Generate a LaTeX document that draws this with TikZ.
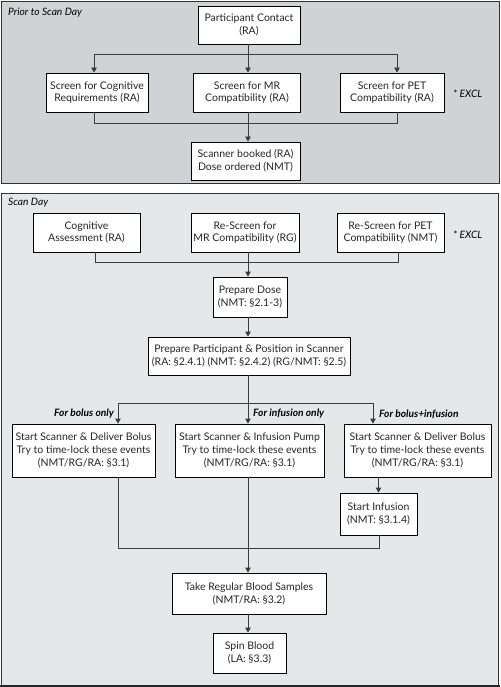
\documentclass[tikz,border=0pt]{standalone}
\usepackage{fontspec}
\setmainfont{Lato}
\usetikzlibrary{arrows.meta,calc}
\definecolor{panelA}{HTML}{D1D2D4}
\definecolor{panelB}{HTML}{E6E7E8}
\definecolor{linec}{HTML}{3C3C3C}
\tikzset{
  box/.style={draw=black,line width=0.8pt,fill=white,align=center,inner sep=1pt,
    font=\fontsize{10.5}{12.8}\selectfont,text=black!85},
  conn/.style={draw=linec,line width=0.8pt},
  arr/.style={conn,-{Triangle[width=5.5pt,length=5pt]}},
  paneltitle/.style={anchor=west,font=\fontsize{10.2}{11}\selectfont\itshape,inner sep=0pt},
  excl/.style={anchor=west,font=\fontsize{10.2}{11}\selectfont\itshape,inner sep=0pt},
  branch/.style={font=\fontsize{10.2}{11}\selectfont\bfseries\itshape,inner sep=0pt},
}
\begin{document}
\begin{tikzpicture}[x=1pt,y=-1pt]
\useasboundingbox (0,0) rectangle (500,687);
% panels
\draw[fill=panelA,draw=black!80,line width=0.8pt] (1,1.5) rectangle (499,183);
\draw[fill=panelB,draw=black!80,line width=0.8pt] (1,193) rectangle (498,685);
\draw[line width=2pt,black!85] (0,685.5) -- (500,685.5);
\node[paneltitle] (t1) at (8,13) {Prior to Scan Day};
\node[paneltitle] (t2) at (8,203) {Scan Day};
% --- Prior to scan day
\node[box,minimum width=102pt,minimum height=38pt] (contact) at (249,25) {Participant Contact\\(RA)};
\node[box,minimum width=102pt,minimum height=39pt] (cog1) at (97,92.5) {Screen for Cognitive\\Requirements (RA)};
\node[box,minimum width=107pt,minimum height=39pt] (mr1) at (247,92.5) {Screen for MR\\Compatibility (RA)};
\node[box,minimum width=104pt,minimum height=39pt] (pet1) at (392,92.5) {Screen for PET\\Compatibility (RA)};
\node[excl] (ex1) at (453,94) {* EXCL};
\node[box,minimum width=109pt,minimum height=38pt] (book) at (245.5,161) {Scanner booked (RA)\\Dose ordered (NMT)};
\coordinate (a1) at (94,54);
\coordinate (a3) at (397,54);
\coordinate (b1) at (94,123);
\coordinate (b3) at (397,123);
\draw[conn] (a1) -- (a3);
\draw[conn] (contact.south -| 248,0) -- (248,54);
\draw[arr] (a1) -- (a1 |- cog1.north);
\draw[arr] (248,54) -- (248,0 |- mr1.north);
\draw[arr] (a3) -- (a3 |- pet1.north);
\draw[conn] (b1 |- cog1.south) -- (b1) -- (b3) -- (b3 |- pet1.south);
\draw[arr] (248,0 |- mr1.south) -- (248,0 |- book.north);
% --- Scan day
\node[box,minimum width=107pt,minimum height=39pt] (cog2) at (86.5,232.5) {Cognitive\\Assessment (RA)};
\node[box,minimum width=108pt,minimum height=39pt] (mr2) at (245,232.5) {Re-Screen for\\MR Compatibility (RG)};
\node[box,minimum width=107pt,minimum height=39pt] (pet2) at (390.5,232.5) {Re-Screen for PET\\Compatibility (NMT)};
\node[excl] (ex2) at (453,235) {* EXCL};
\node[box,minimum width=74pt,minimum height=40pt] (dose) at (250,297) {Prepare Dose\\(NMT: §2.1-3)};
\node[box,minimum width=202pt,minimum height=38pt] (prep) at (249,356) {Prepare Participant \& Position in Scanner\\(RA: §2.4.1) (NMT: §2.4.2) (RG/NMT: §2.5)};
\coordinate (c1) at (95,262);
\coordinate (c3) at (398,262);
\draw[conn] (c1 |- cog2.south) -- (c1) -- (c3) -- (c3 |- pet2.south);
\draw[arr] (248,0 |- mr2.south) -- (248,0 |- dose.north);
\draw[arr] (248,0 |- dose.south) -- (248,0 |- prep.north);
% branches
\node[box,minimum width=143pt,minimum height=53pt] (bolus) at (83.5,450.5) {Start Scanner \& Deliver Bolus\\Try to time-lock these events\\(NMT/RG/RA: §3.1)};
\node[box,minimum width=149pt,minimum height=53pt] (inf) at (249.5,450.5) {Start Scanner \& Infusion Pump\\Try to time-lock these events\\(NMT/RG/RA: §3.1)};
\node[box,minimum width=147pt,minimum height=53pt] (bi) at (417.5,450.5) {Start Scanner \& Deliver Bolus\\Try to time-lock these events\\(NMT/RG/RA: §3.1)};
\node[box,minimum width=77pt,minimum height=42pt] (sinf) at (378.5,514) {Start Infusion\\(NMT: §3.1.4)};
\coordinate (s1) at (118,403);
\coordinate (s3) at (373,403);
\draw[conn] (248,0 |- prep.south) -- (248,403);
\draw[conn] (s1) -- (s3);
\draw[arr] (s1) -- (s1 |- bolus.north);
\draw[arr] (248,403) -- (248,0 |- inf.north);
\draw[arr] (s3) -- (s3 |- bi.north);
\node[branch,anchor=east] (l1) at (114,414) {For bolus only};
\node[branch,anchor=west] (l2) at (253,414) {For infusion only};
\node[branch,anchor=west] (l3) at (379,414) {For bolus+infusion};
\draw[arr] (sinf.north |- bi.south) -- (sinf.north);
\coordinate (m1) at (118,548);
\coordinate (m3) at (379,548);
\draw[conn] (m1 |- bolus.south) -- (m1) -- (m3) -- (m3 |- sinf.south);
\node[box,minimum width=154pt,minimum height=41pt] (blood) at (249,593.5) {Take Regular Blood Samples\\(NMT/RA: §3.2)};
\node[box,minimum width=73pt,minimum height=40pt] (spin) at (249.5,653) {Spin Blood\\(LA: §3.3)};
\draw[arr] (248,0 |- inf.south) -- (248,0 |- blood.north);
\draw[arr] (248,0 |- blood.south) -- (248,0 |- spin.north);
\end{tikzpicture}
\end{document}
